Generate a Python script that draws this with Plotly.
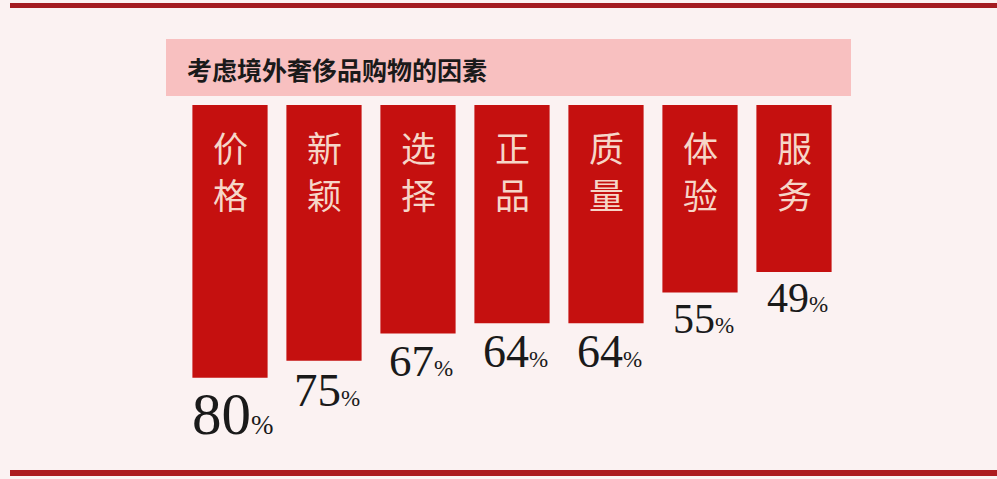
import plotly.graph_objects as go

categories = ["价格", "新颖", "选择", "正品", "质量", "体验", "服务"]
values = [80, 75, 67, 64, 64, 55, 49]
value_font_sizes = [59, 47, 45, 46, 46, 42, 42]
title_text = "考虑境外奢侈品购物的因素"

W, H = 997, 479
L, R, T, B = 183, 156, 105, 33
PW, PH = W - L - R, H - T - B
PER_PCT = PH / 100.0


def px_x(px):
    return (px - L) / PW


def px_y(py):
    return 1 - (py - T) / PH


fig = go.Figure()
fig.add_trace(go.Bar(
    x=categories,
    y=values,
    marker=dict(color="#c5100f", line=dict(width=0)),
    hoverinfo="skip",
))

annotations = []
for cat, v, fs in zip(categories, values, value_font_sizes):
    pct_size = max(23, int(fs * 0.46))
    annotations.append(dict(
        x=cat, y=v, xref="x", yref="y",
        text=f"{v}<span style='font-size:{pct_size}px'>%</span>",
        showarrow=False, yanchor="top", xanchor="center", yshift=-1, xshift=3,
        font=dict(family="Liberation Serif", size=fs, color="#1a1a1a"),
    ))
    for i, ch in enumerate(cat):
        annotations.append(dict(
            x=cat, y=(41 + 47 * i) / PER_PCT, xref="x", yref="y",
            text=ch,
            showarrow=False, yanchor="middle", xanchor="center",
            font=dict(family="Noto Sans CJK SC", size=35, color="#f6d6c8"),
        ))

annotations.append(dict(
    x=px_x(185), y=px_y(69), xref="paper", yref="paper",
    text=f"<b>{title_text}</b>", showarrow=False,
    xanchor="left", yanchor="middle",
    font=dict(family="Noto Sans CJK SC", size=25, color="#1a1a1a"),
))

shapes = [
    dict(type="rect", xref="paper", yref="paper",
         x0=px_x(166), x1=px_x(851), y0=px_y(96), y1=px_y(39),
         fillcolor="#f8c0c0", line=dict(width=0), layer="below"),
    dict(type="rect", xref="paper", yref="paper",
         x0=px_x(10), x1=px_x(997), y0=px_y(8), y1=px_y(3),
         fillcolor="#a41b20", line=dict(width=0)),
    dict(type="rect", xref="paper", yref="paper",
         x0=px_x(10), x1=px_x(997), y0=px_y(476), y1=px_y(470),
         fillcolor="#ad1b1f", line=dict(width=0)),
]

fig.update_layout(
    width=W, height=H,
    margin=dict(l=L, r=R, t=T, b=B, pad=0),
    paper_bgcolor="#fbf2f2",
    plot_bgcolor="rgba(0,0,0,0)",
    bargap=0.2,
    showlegend=False,
    xaxis=dict(visible=False, range=[-0.5, 6.5], fixedrange=True),
    yaxis=dict(visible=False, range=[100, 0], fixedrange=True),
    annotations=annotations,
    shapes=shapes,
)

fig.write_html(
    "out.html",
    config={"displayModeBar": False},
    post_script="document.body.style.margin='0';document.body.style.overflow='hidden';document.body.style.background='#fbf2f2';",
)
